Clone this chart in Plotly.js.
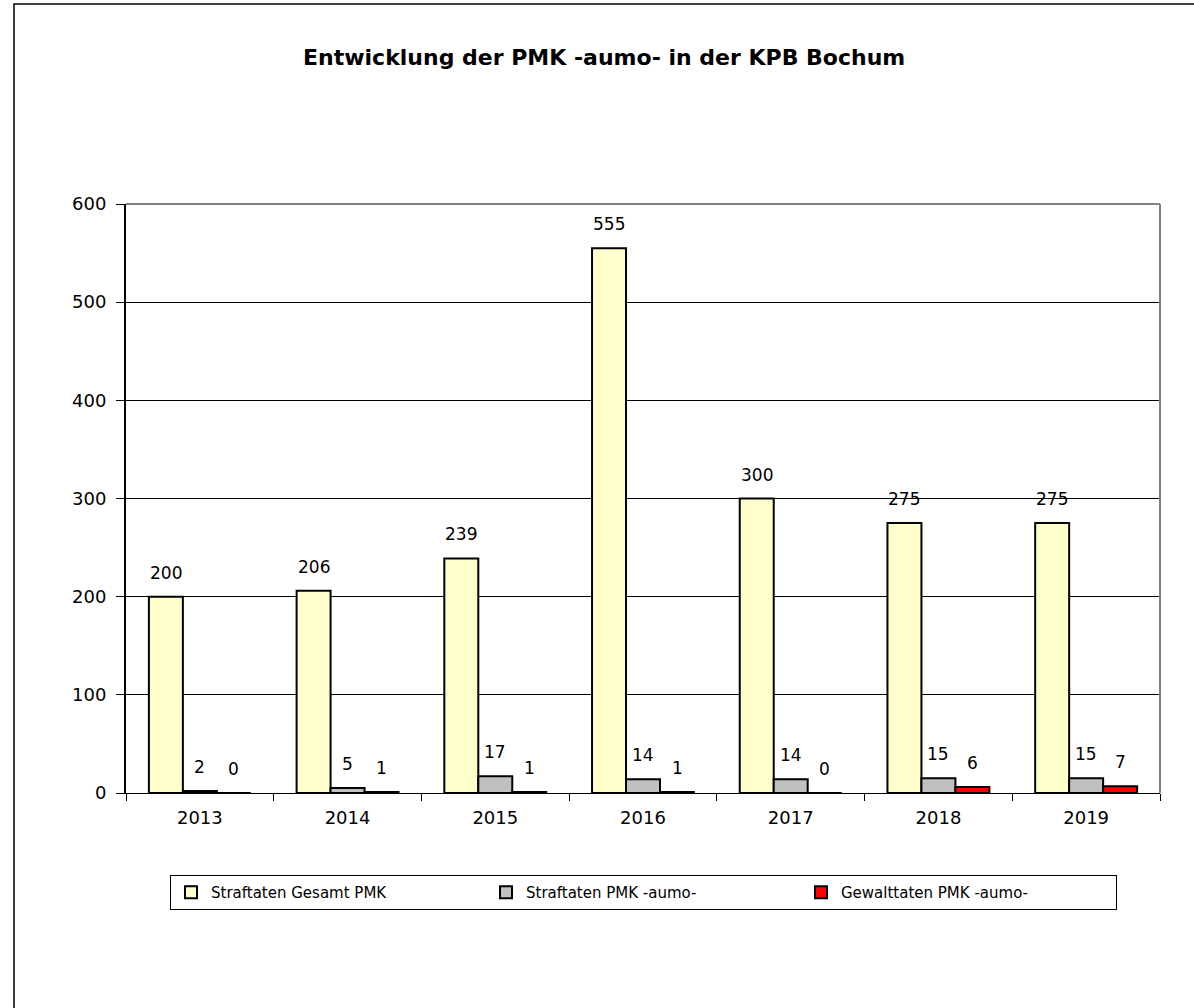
<!DOCTYPE html>
<html>
<head>
<meta charset="utf-8">
<script src="https://cdn.plot.ly/plotly-3.0.1.min.js"></script>
<style>html,body{margin:0;padding:0;background:#fff;}#chart{width:1194px;height:1008px;}</style>
</head>
<body>
<div id="chart"></div>
<script>
const years = ['2013','2014','2015','2016','2017','2018','2019'];
const gesamtPMK = [200, 206, 239, 555, 300, 275, 275];
const straftatenAumo = [2, 5, 17, 14, 14, 15, 15];
const gewaltAumo = [0, 1, 1, 1, 0, 6, 7];
const seriesNames = ['Straftaten Gesamt PMK', 'Straftaten PMK -aumo-', 'Gewalttaten PMK -aumo-'];
const seriesColors = ['#FFFFCC', '#C0C0C0', '#FF0000'];
const seriesValues = [gesamtPMK, straftatenAumo, gewaltAumo];

const FONT = 'DejaVu Sans, Arial, sans-serif';
const L = 126, R = 34, T = 204, B = 215, W = 1194, H = 1008;
const PW = W - L - R, PH = H - T - B;

const traces = seriesValues.map((vals, i) => ({
  type: 'bar',
  name: seriesNames[i],
  x: years,
  y: vals,
  marker: {color: seriesColors[i], line: {color: '#000', width: 2}},
  hoverinfo: 'skip'
}));

// data labels derived from data (offset per series within group)
const nS = seriesValues.length;
const annotations = [];
seriesValues.forEach((vals, i) => {
  vals.forEach((v, j) => {
    annotations.push({
      x: j, y: v, xref: 'x', yref: 'y',
      text: String(v), showarrow: false,
      xshift: (i - (nS - 1) / 2) * 34,
      yshift: 24, yanchor: 'middle',
      font: {family: FONT, size: 17, color: '#000'}
    });
  });
});

const layout = {
  width: W, height: H,
  margin: {l: L, r: R, t: T, b: B},
  paper_bgcolor: '#fff', plot_bgcolor: '#fff',
  title: {text: '<b>Entwicklung der PMK -aumo- in der KPB Bochum</b>',
    font: {family: FONT, size: 22, color: '#000'},
    x: 0.506, xanchor: 'center', y: 1 - 57/H, yanchor: 'middle', xref: 'container', yref: 'container'},
  barmode: 'group', bargap: 0.31, bargroupgap: 0,
  showlegend: true,
  legend: {orientation: 'h', xref: 'container', yref: 'container',
    x: 170/W, xanchor: 'left', y: 1 - 875/H, yanchor: 'top',
    bordercolor: '#000', borderwidth: 1, bgcolor: '#fff',
    font: {family: FONT, size: 15, color: '#000'},
    entrywidth: 270, entrywidthmode: 'pixels', itemwidth: 30,
    traceorder: 'normal'},
  xaxis: {type: 'category', showline: true, linecolor: '#000', linewidth: 1,
    ticks: 'outside', tickson: 'boundaries', ticklen: 7, tickcolor: '#000',
    ticklabelstandoff: 8,
    tickfont: {family: FONT, size: 18, color: '#000'}, showgrid: false, zeroline: false,
    fixedrange: true},
  yaxis: {range: [0, 600], dtick: 100, showline: true, linecolor: '#000', linewidth: 2,
    ticks: 'outside', ticklen: 8, tickcolor: '#000', ticklabelstandoff: 6,
    tickfont: {family: FONT, size: 18, color: '#000'},
    showgrid: true, gridcolor: '#000', gridwidth: 1, zeroline: false, fixedrange: true},
  annotations: annotations,
  shapes: [
    {type: 'line', xref: 'paper', yref: 'paper', x0: 0, x1: 1, y0: 1, y1: 1,
      line: {color: '#808080', width: 2}, layer: 'above'},
    {type: 'line', xref: 'paper', yref: 'paper', x0: 1, x1: 1, y0: 0, y1: 1,
      line: {color: '#808080', width: 2}, layer: 'above'},
    {type: 'rect', xref: 'paper', yref: 'paper',
      x0: (14 - L) / PW, x1: 1.2, y0: -0.5, y1: (H - B - 4) / PH,
      line: {color: '#000', width: 1.5}, layer: 'above'}
  ]
};

Plotly.newPlot('chart', traces, layout, {displayModeBar: false, staticPlot: true});
</script>
</body>
</html>
